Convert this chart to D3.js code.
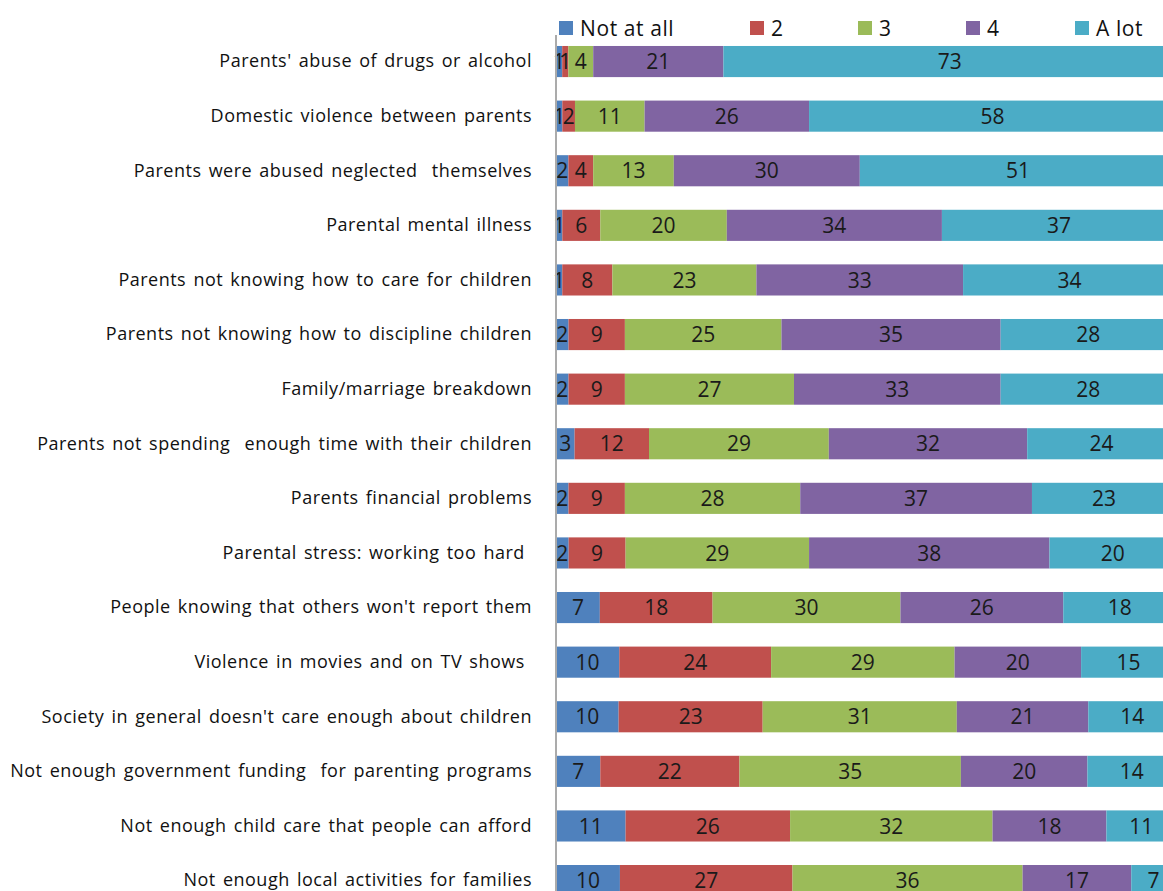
<!DOCTYPE html>
<html>
<head>
<meta charset="utf-8">
<script src="https://cdn.jsdelivr.net/npm/d3@7/dist/d3.min.js"></script>
<style>
  html, body { margin: 0; padding: 0; background: #fff; }
  svg { display: block; }
  text { white-space: pre; }
</style>
</head>
<body>
<svg id="chart" width="1163" height="891"></svg>
<script>
// Survey: how much each factor contributes to child abuse (1 = not at all ... 5 = a lot), in %
const categories = [
  "Parents' abuse of drugs or alcohol",
  "Domestic violence between parents",
  "Parents were abused neglected  themselves",
  "Parental mental illness",
  "Parents not knowing how to care for children",
  "Parents not knowing how to discipline children",
  "Family/marriage breakdown",
  "Parents not spending  enough time with their children",
  "Parents financial problems",
  "Parental stress: working too hard ",
  "People knowing that others won't report them",
  "Violence in movies and on TV shows ",
  "Society in general doesn't care enough about children",
  "Not enough government funding  for parenting programs",
  "Not enough child care that people can afford",
  "Not enough local activities for families"
];
const seriesNames = ["Not at all", "2", "3", "4", "A lot"];
const notAtAll = [1, 1, 2, 1, 1, 2, 2, 3, 2, 2, 7, 10, 10, 7, 11, 10];
const two      = [1, 2, 4, 6, 8, 9, 9, 12, 9, 9, 18, 24, 23, 22, 26, 27];
const three    = [4, 11, 13, 20, 23, 25, 27, 29, 28, 29, 30, 29, 31, 35, 32, 36];
const four     = [21, 26, 30, 34, 33, 35, 33, 32, 37, 38, 26, 20, 21, 20, 18, 17];
const aLot     = [73, 58, 51, 37, 34, 28, 28, 24, 23, 20, 18, 15, 14, 14, 11, 7];
const seriesColors = ["#4F81BD", "#C0504D", "#9BBB59", "#8064A2", "#4BACC6"];

const seriesValues = [notAtAll, two, three, four, aLot];
const rows = categories.map((c, i) => {
  const r = { category: c };
  seriesNames.forEach((s, k) => { r[s] = seriesValues[k][i]; });
  return r;
});

const svg = d3.select("#chart");
const font = "'Open Sans', 'Liberation Sans', Arial, sans-serif";

const plotLeft = 556;
const x = d3.scaleLinear().domain([0, 1]).range([plotLeft, 1176]);
const y = d3.scaleBand().domain(categories).range([22.5, 919.6]).paddingInner(0.43).paddingOuter(0.43);

// 100% stacking: each row is normalised by its own total
const stacked = d3.stack().keys(seriesNames).offset(d3.stackOffsetExpand)(rows);
const color = d3.scaleOrdinal().domain(seriesNames).range(seriesColors);

const layers = svg.append("g").selectAll("g")
  .data(stacked).join("g")
  .attr("fill", d => color(d.key));

layers.selectAll("rect")
  .data(d => d.map(p => Object.assign(p, { key: d.key })))
  .join("rect")
  .attr("x", d => x(d[0]))
  .attr("y", d => y(d.data.category))
  .attr("width", d => x(d[1]) - x(d[0]))
  .attr("height", y.bandwidth());

// value labels centred in each segment
svg.append("g").selectAll("g")
  .data(stacked).join("g")
  .selectAll("text")
  .data(d => d.map(p => ({ p, key: d.key })))
  .join("text")
  .attr("x", d => (x(d.p[0]) + x(d.p[1])) / 2)
  .attr("y", d => y(d.p.data.category) + y.bandwidth() / 2)
  .attr("dy", "0.36em")
  .attr("text-anchor", "middle")
  .attr("font-family", font)
  .attr("font-size", 21)
  .attr("fill", "#1a1a1a")
  .text(d => d.p.data[d.key]);

// category axis
const yAxis = svg.append("g")
  .attr("transform", `translate(${plotLeft},0)`)
  .call(d3.axisLeft(y).tickSize(0).tickPadding(24));
yAxis.select(".domain").attr("stroke", "#ababab").attr("stroke-width", 2)
  .attr("d", `M0,35V891`);
yAxis.selectAll(".tick text")
  .attr("font-family", font)
  .attr("font-size", 18)
  .attr("letter-spacing", "0.5px")
  .attr("word-spacing", "2px")
  .attr("fill", "#111");

// legend
const legendX = [559, 750, 858, 966, 1075];
const legend = svg.append("g").selectAll("g")
  .data(seriesNames).join("g")
  .attr("transform", (d, i) => `translate(${legendX[i]},21)`);
legend.append("rect")
  .attr("width", 14).attr("height", 14)
  .attr("fill", d => color(d));
legend.append("text")
  .attr("x", 21).attr("y", 7).attr("dy", "0.36em")
  .attr("font-family", font)
  .attr("font-size", 21)
  .attr("letter-spacing", "0.6px")
  .attr("fill", "#111")
  .text(d => d);
</script>
</body>
</html>
